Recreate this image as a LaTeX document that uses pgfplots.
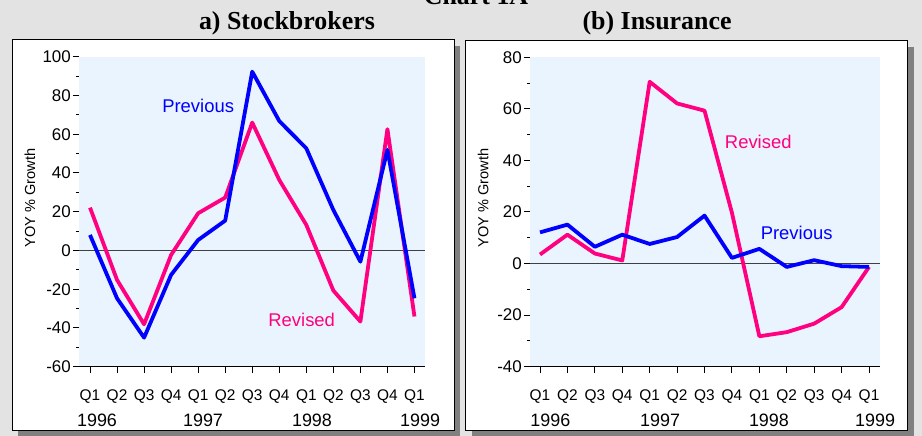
\documentclass[border=0pt]{standalone}
\usepackage{pgfplots}
\pgfplotsset{compat=1.18}
\usepackage{fontspec}
\setmainfont{Liberation Sans}
\newfontfamily\tnr{Liberation Serif}
\definecolor{bgray}{RGB}{227,227,227}
\definecolor{shadowc}{RGB}{128,128,128}
\definecolor{plotbg}{RGB}{234,244,254}
\definecolor{prev}{RGB}{0,0,255}
\definecolor{rev}{RGB}{255,0,128}

\pgfplotsset{panel/.style={
 scale only axis, clip=false,
 axis x line*=bottom, axis y line*=left,
 y axis line style={draw=none},
 x axis line style={black, line width=1.2bp},
 axis background/.style={fill=plotbg},
 tick align=outside, major tick length=6bp, minor tick length=3bp,
 tick style={black, line width=1bp},
 minor y tick num=1,
 xtick={0,...,12},
 xticklabels={Q1,Q2,Q3,Q4,Q1,Q2,Q3,Q4,Q1,Q2,Q3,Q4,Q1},
 /pgf/number format/assume math mode=true,
 yticklabel style={font=\fontsize{17}{17}\selectfont, inner sep=2bp},
 xticklabel style={font=\fontsize{15.5}{15.5}\selectfont, anchor=base, yshift=-28bp},
 ylabel={YOY \% Growth},
 title style={font=\fontsize{26}{26}\selectfont\tnr\bfseries, anchor=base},
},
prevline/.style={draw=prev, line width=3.8bp, line join=round, mark=none},
revline/.style={draw=rev, line width=3.8bp, line join=round, mark=none},
}

\begin{document}
\begin{tikzpicture}
\useasboundingbox (0,0) rectangle (922bp,436bp);
\fill[bgray] (0,0) rectangle (922bp,436bp);
\node[font=\fontsize{26}{26}\selectfont\tnr\bfseries, anchor=base] at (476bp,431bp) {Chart 1A};
% panel frames
\fill[shadowc] (18bp,-1bp) rectangle (460bp,390bp);
\filldraw[fill=white, draw=black, line width=1bp] (12bp,5bp) rectangle (454bp,396bp);
\fill[shadowc] (471.5bp,-1bp) rectangle (914bp,389bp);
\filldraw[fill=white, draw=black, line width=1bp] (465.5bp,5bp) rectangle (907.7bp,395bp);

% ---------- a) Stockbrokers ----------
\begin{axis}[panel,
  at={(79bp,69.3bp)}, anchor=south west, width=346bp, height=310bp,
  xmin=-0.407, xmax=12.39, ymin=-60, ymax=100,
  ytick={-60,-40,...,100},
  every axis y label/.style={at={(axis description cs:-0.1416,0.544)}, rotate=90, anchor=center, font=\fontsize{14.6}{14.6}\selectfont},
  title={a) Stockbrokers},
  title style={at={(axis description cs:0.601,1.070)}},
]
\addplot[draw=black!75, line width=1.3bp, forget plot] coordinates {(-0.407,0) (12.39,0)};
\addplot[revline] coordinates {
(0,22.1) (1,-15.2) (2,-38.1) (3,-2.3) (4,19.2) (5,27.3) (6,66.0) (7,36.4) (8,13.2) (9,-20.7) (10,-36.7) (11,62.6) (12,-34.1)};
\addplot[prevline] coordinates {
(0,8.0) (1,-24.7) (2,-45.0) (3,-12.6) (4,5.4) (5,15.4) (6,92.3) (7,66.8) (8,52.7) (9,20.9) (10,-5.8) (11,51.9) (12,-24.7)};
\node[text=prev, font=\fontsize{18.5}{18.5}\selectfont] at (axis cs:4.0,74.6) {Previous};
\node[text=rev, font=\fontsize{18.5}{18.5}\selectfont] at (axis cs:7.83,-35.9) {Revised};
\node[font=\fontsize{18}{18}\selectfont, anchor=base, yshift=-59.3bp] at (axis cs:0.26,-60) {1996};
\node[font=\fontsize{18}{18}\selectfont, anchor=base, yshift=-59.3bp] at (axis cs:4.18,-60) {1997};
\node[font=\fontsize{18}{18}\selectfont, anchor=base, yshift=-59.3bp] at (axis cs:8.21,-60) {1998};
\node[font=\fontsize{18}{18}\selectfont, anchor=base, yshift=-59.3bp] at (axis cs:12.21,-60) {1999};
\end{axis}

% ---------- (b) Insurance ----------
\begin{axis}[panel,
  at={(530bp,69.3bp)}, anchor=south west, width=350bp, height=309.4bp,
  xmin=-0.365, xmax=12.40, ymin=-40, ymax=80,
  ytick={-40,-20,...,80},
  every axis y label/.style={at={(axis description cs:-0.134,0.545)}, rotate=90, anchor=center, font=\fontsize{14.6}{14.6}\selectfont},
  title={(b) Insurance},
  title style={at={(axis description cs:0.363,1.072)}},
]
\addplot[draw=black!75, line width=1.3bp, forget plot] coordinates {(-0.365,0) (12.40,0)};
\addplot[revline] coordinates {
(0,3.5) (1,11.2) (2,3.9) (3,1.2) (4,70.5) (5,62.1) (6,59.3) (7,19.7) (8,-28.2) (9,-26.6) (10,-23.3) (11,-16.9) (12,-1.3)};
\addplot[prevline] coordinates {
(0,12.1) (1,15.1) (2,6.5) (3,11.2) (4,7.6) (5,10.3) (6,18.6) (7,2.2) (8,5.7) (9,-1.3) (10,1.3) (11,-1.0) (12,-1.3)};
\node[text=rev, font=\fontsize{18.5}{18.5}\selectfont] at (axis cs:7.96,47.1) {Revised};
\node[text=prev, font=\fontsize{18.5}{18.5}\selectfont] at (axis cs:9.36,11.9) {Previous};
\node[font=\fontsize{18}{18}\selectfont, anchor=base, yshift=-59.3bp] at (axis cs:0.38,-40) {1996};
\node[font=\fontsize{18}{18}\selectfont, anchor=base, yshift=-59.3bp] at (axis cs:4.38,-40) {1997};
\node[font=\fontsize{18}{18}\selectfont, anchor=base, yshift=-59.3bp] at (axis cs:8.35,-40) {1998};
\node[font=\fontsize{18}{18}\selectfont, anchor=base, yshift=-59.3bp] at (axis cs:12.22,-40) {1999};
\end{axis}
\end{tikzpicture}
\end{document}
